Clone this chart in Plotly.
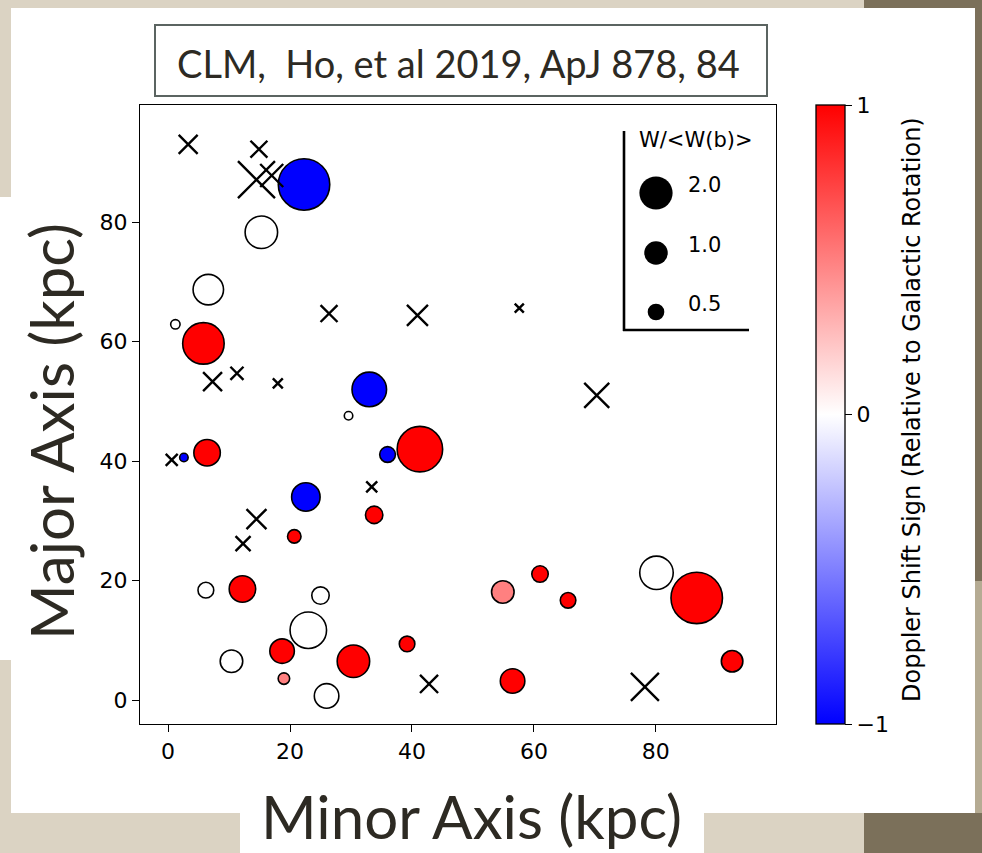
import numpy as np
import plotly.graph_objects as go

# ---- absorber sightlines: position (kpc), equivalent-width ratio, Doppler sign ----
circ_minor = [22.3, 15.3, 6.6, 1.2, 5.8, 33.0, 29.6, 2.6, 6.4, 36.0, 41.3, 22.6, 33.8,
              20.7, 6.2, 12.2, 25.0, 23.0, 10.4, 18.7, 30.4, 19.0, 26.0, 39.2, 54.9,
              61.0, 65.6, 80.1, 86.7, 92.5, 56.5]
circ_major = [86.3, 78.3, 68.7, 62.9, 59.7, 52.0, 47.6, 40.6, 41.4, 41.1, 42.0, 34.0, 31.0,
              27.4, 18.4, 18.6, 17.5, 11.7, 6.5, 8.2, 6.5, 3.6, 0.7, 9.4, 18.1,
              21.1, 16.7, 21.3, 17.1, 6.5, 3.2]
circ_w = [4.80, 1.91, 1.68, 0.16, 3.12, 2.16, 0.13, 0.13, 1.27, 0.45, 3.75, 1.47, 0.55,
          0.33, 0.45, 1.27, 0.55, 2.41, 0.92, 1.09, 1.91, 0.24, 1.09, 0.44, 0.92,
          0.49, 0.44, 2.03, 4.80, 0.84, 1.09]
circ_sign = [-1, 0, 0, 0, 1, -1, 0, -1, 1, -1, 1, -1, 1,
             1, 0, 1, 0, 0, 0, 1, 1, 0.5, 0, 1, 0.5,
             1, 1, 0, 1, 1, 1]

# non-detections
lim_minor = [3.3, 14.9, 14.5, 17.0, 26.4, 40.9, 7.3, 11.3, 18.0, 0.6, 33.4, 14.5, 12.3,
             42.8, 57.6, 70.3, 78.2]
lim_major = [93.0, 92.2, 87.1, 87.8, 64.7, 64.4, 53.3, 54.7, 53.0, 40.2, 35.7, 30.3, 26.2,
             2.7, 65.6, 51.0, 2.2]
lim_w = [0.65, 0.52, 2.48, 0.96, 0.52, 0.80, 0.65, 0.31, 0.18, 0.26, 0.22, 0.72, 0.41,
         0.59, 0.15, 1.13, 1.42]

legend_w = [2.0, 1.0, 0.5]
legend_labels = ["2.0", "1.0", "0.5"]

x_ticks = [0, 20, 40, 60, 80]
y_ticks = [0, 20, 40, 60, 80]
cbar_ticks = [-1, 0, 1]

TITLE = "CLM,\u00a0 Ho, et al 2019, ApJ 878, 84"
XLABEL = "Minor Axis (kpc)"
YLABEL = "Major Axis (kpc)"
CLABEL = "Doppler Shift Sign (Relative to Galactic Rotation)"
LEG_TITLE = "W/&lt;W(b)&gt;"

# ---- page geometry (pixels) ----
W_PX, H_PX = 982, 853
PL, PR, PT, PB = 140, 776, 105, 724


def fx(p):
    return (p - PL) / (PR - PL)


def fy(p):
    return 1 - (p - PT) / (PB - PT)


def marker_px(w):
    # marker area scales with the equivalent-width ratio
    return 23.5 * np.sqrt(np.asarray(w, dtype=float))


BWR = [[0.0, "rgb(0,0,255)"], [0.5, "rgb(255,255,255)"], [1.0, "rgb(255,0,0)"]]
TICK_FONT = dict(family="DejaVu Sans", size=22, color="black")
KEY_FONT = dict(family="DejaVu Sans", size=21, color="black")
SLIDE_FONT = "Lato, 'Open Sans', sans-serif"
INK = "#2d2a23"
BEIGE = "#dbd3c3"
BROWN = "#7b705a"

fig = go.Figure()

fig.add_trace(go.Scatter(
    x=circ_minor, y=circ_major, mode="markers", showlegend=False, hoverinfo="skip",
    marker=dict(
        symbol="circle", size=marker_px(circ_w), color=circ_sign, opacity=1,
        colorscale=BWR, cmin=-1, cmax=1,
        line=dict(color="black", width=1.6),
        colorbar=dict(
            x=fx(816), xanchor="left", xpad=0, y=0.5, yanchor="middle",
            len=1, lenmode="fraction", ypad=0, thickness=29,
            outlinewidth=1.3, outlinecolor="black",
            tickvals=cbar_ticks, ticks="outside", ticklen=7, tickwidth=1.3,
            tickcolor="black", tickfont=TICK_FONT,
        ),
    ),
))

fig.add_trace(go.Scatter(
    x=lim_minor, y=lim_major, mode="markers", showlegend=False, hoverinfo="skip",
    marker=dict(symbol="x-thin", size=marker_px(lim_w), color="black", opacity=1,
                line=dict(color="black", width=2.4)),
))

# size key drawn on an overlay axis spanning the plot area
leg_y = [fy(193), fy(253), fy(312)]
fig.add_trace(go.Scatter(
    x=[fx(656)] * 3, y=leg_y, xaxis="x2", yaxis="y2", mode="markers",
    showlegend=False, hoverinfo="skip",
    marker=dict(symbol="circle", size=marker_px(legend_w), color="black", opacity=1,
                line=dict(width=0)),
))

shapes = []


def rect(x0, y0, x1, y1, color):
    shapes.append(dict(type="rect", xref="paper", yref="paper", layer="below",
                       x0=fx(x0), x1=fx(x1), y0=fy(y1), y1=fy(y0), fillcolor=color,
                       line=dict(width=0)))


rect(864, 0, 982, 853, BROWN)
rect(11, 8, 975, 813, "white")
rect(0, 197, 11, 660, "white")
rect(240, 813, 704, 853, "white")
rect(975, 581, 982, 813, "#b5ab93")
# title frame
shapes.append(dict(type="rect", xref="paper", yref="paper", layer="below",
                   x0=fx(155), x1=fx(767), y0=fy(96), y1=fy(25),
                   fillcolor="white", line=dict(color="#5b6461", width=2)))
# size-key bracket
shapes.append(dict(type="line", xref="paper", yref="paper", x0=fx(624), x1=fx(624),
                   y0=fy(131), y1=fy(331), line=dict(color="black", width=2.6)))
shapes.append(dict(type="line", xref="paper", yref="paper", x0=fx(623), x1=fx(749),
                   y0=fy(330), y1=fy(330), line=dict(color="black", width=2.6)))


def note(text, x, y, font, xanchor="center", angle=0):
    return dict(text=text, xref="paper", yref="paper", x=fx(x), y=fy(y),
                showarrow=False, xanchor=xanchor, yanchor="middle",
                textangle=angle, font=font)


annotations = [
    note(TITLE, 458, 63, dict(family=SLIDE_FONT, size=38, color=INK)),
    note(XLABEL, 471, 816, dict(family=SLIDE_FONT, size=60, color=INK)),
    note(YLABEL, 51, 432, dict(family=SLIDE_FONT, size=60, color=INK), angle=-90),
    note(CLABEL, 912, 410, dict(family="DejaVu Sans", size=24, color="black"), angle=-90),
    note(LEG_TITLE, 637, 140, KEY_FONT, xanchor="left"),
]
for lab, yy in zip(legend_labels, [185, 245, 304]):
    annotations.append(note(lab, 686, yy, KEY_FONT, xanchor="left"))

axis_common = dict(showgrid=False, zeroline=False, showline=True, mirror=True,
                   linecolor="black", linewidth=1.3, ticks="outside", ticklen=7,
                   tickwidth=1.3, tickcolor="black", tickfont=TICK_FONT)

fig.update_layout(
    width=W_PX, height=H_PX,
    margin=dict(l=PL, r=W_PX - PR, t=PT, b=H_PX - PB, pad=0),
    paper_bgcolor=BEIGE, plot_bgcolor="white",
    xaxis=dict(range=[-4.6, 99.7], tickvals=x_ticks, **axis_common),
    yaxis=dict(range=[-4.0, 99.6], tickvals=y_ticks, **axis_common),
    xaxis2=dict(overlaying="x", range=[0, 1], visible=False, fixedrange=True),
    yaxis2=dict(overlaying="y", range=[0, 1], visible=False, fixedrange=True),
    shapes=shapes, annotations=annotations,
)

fig.write_html("out.html")
